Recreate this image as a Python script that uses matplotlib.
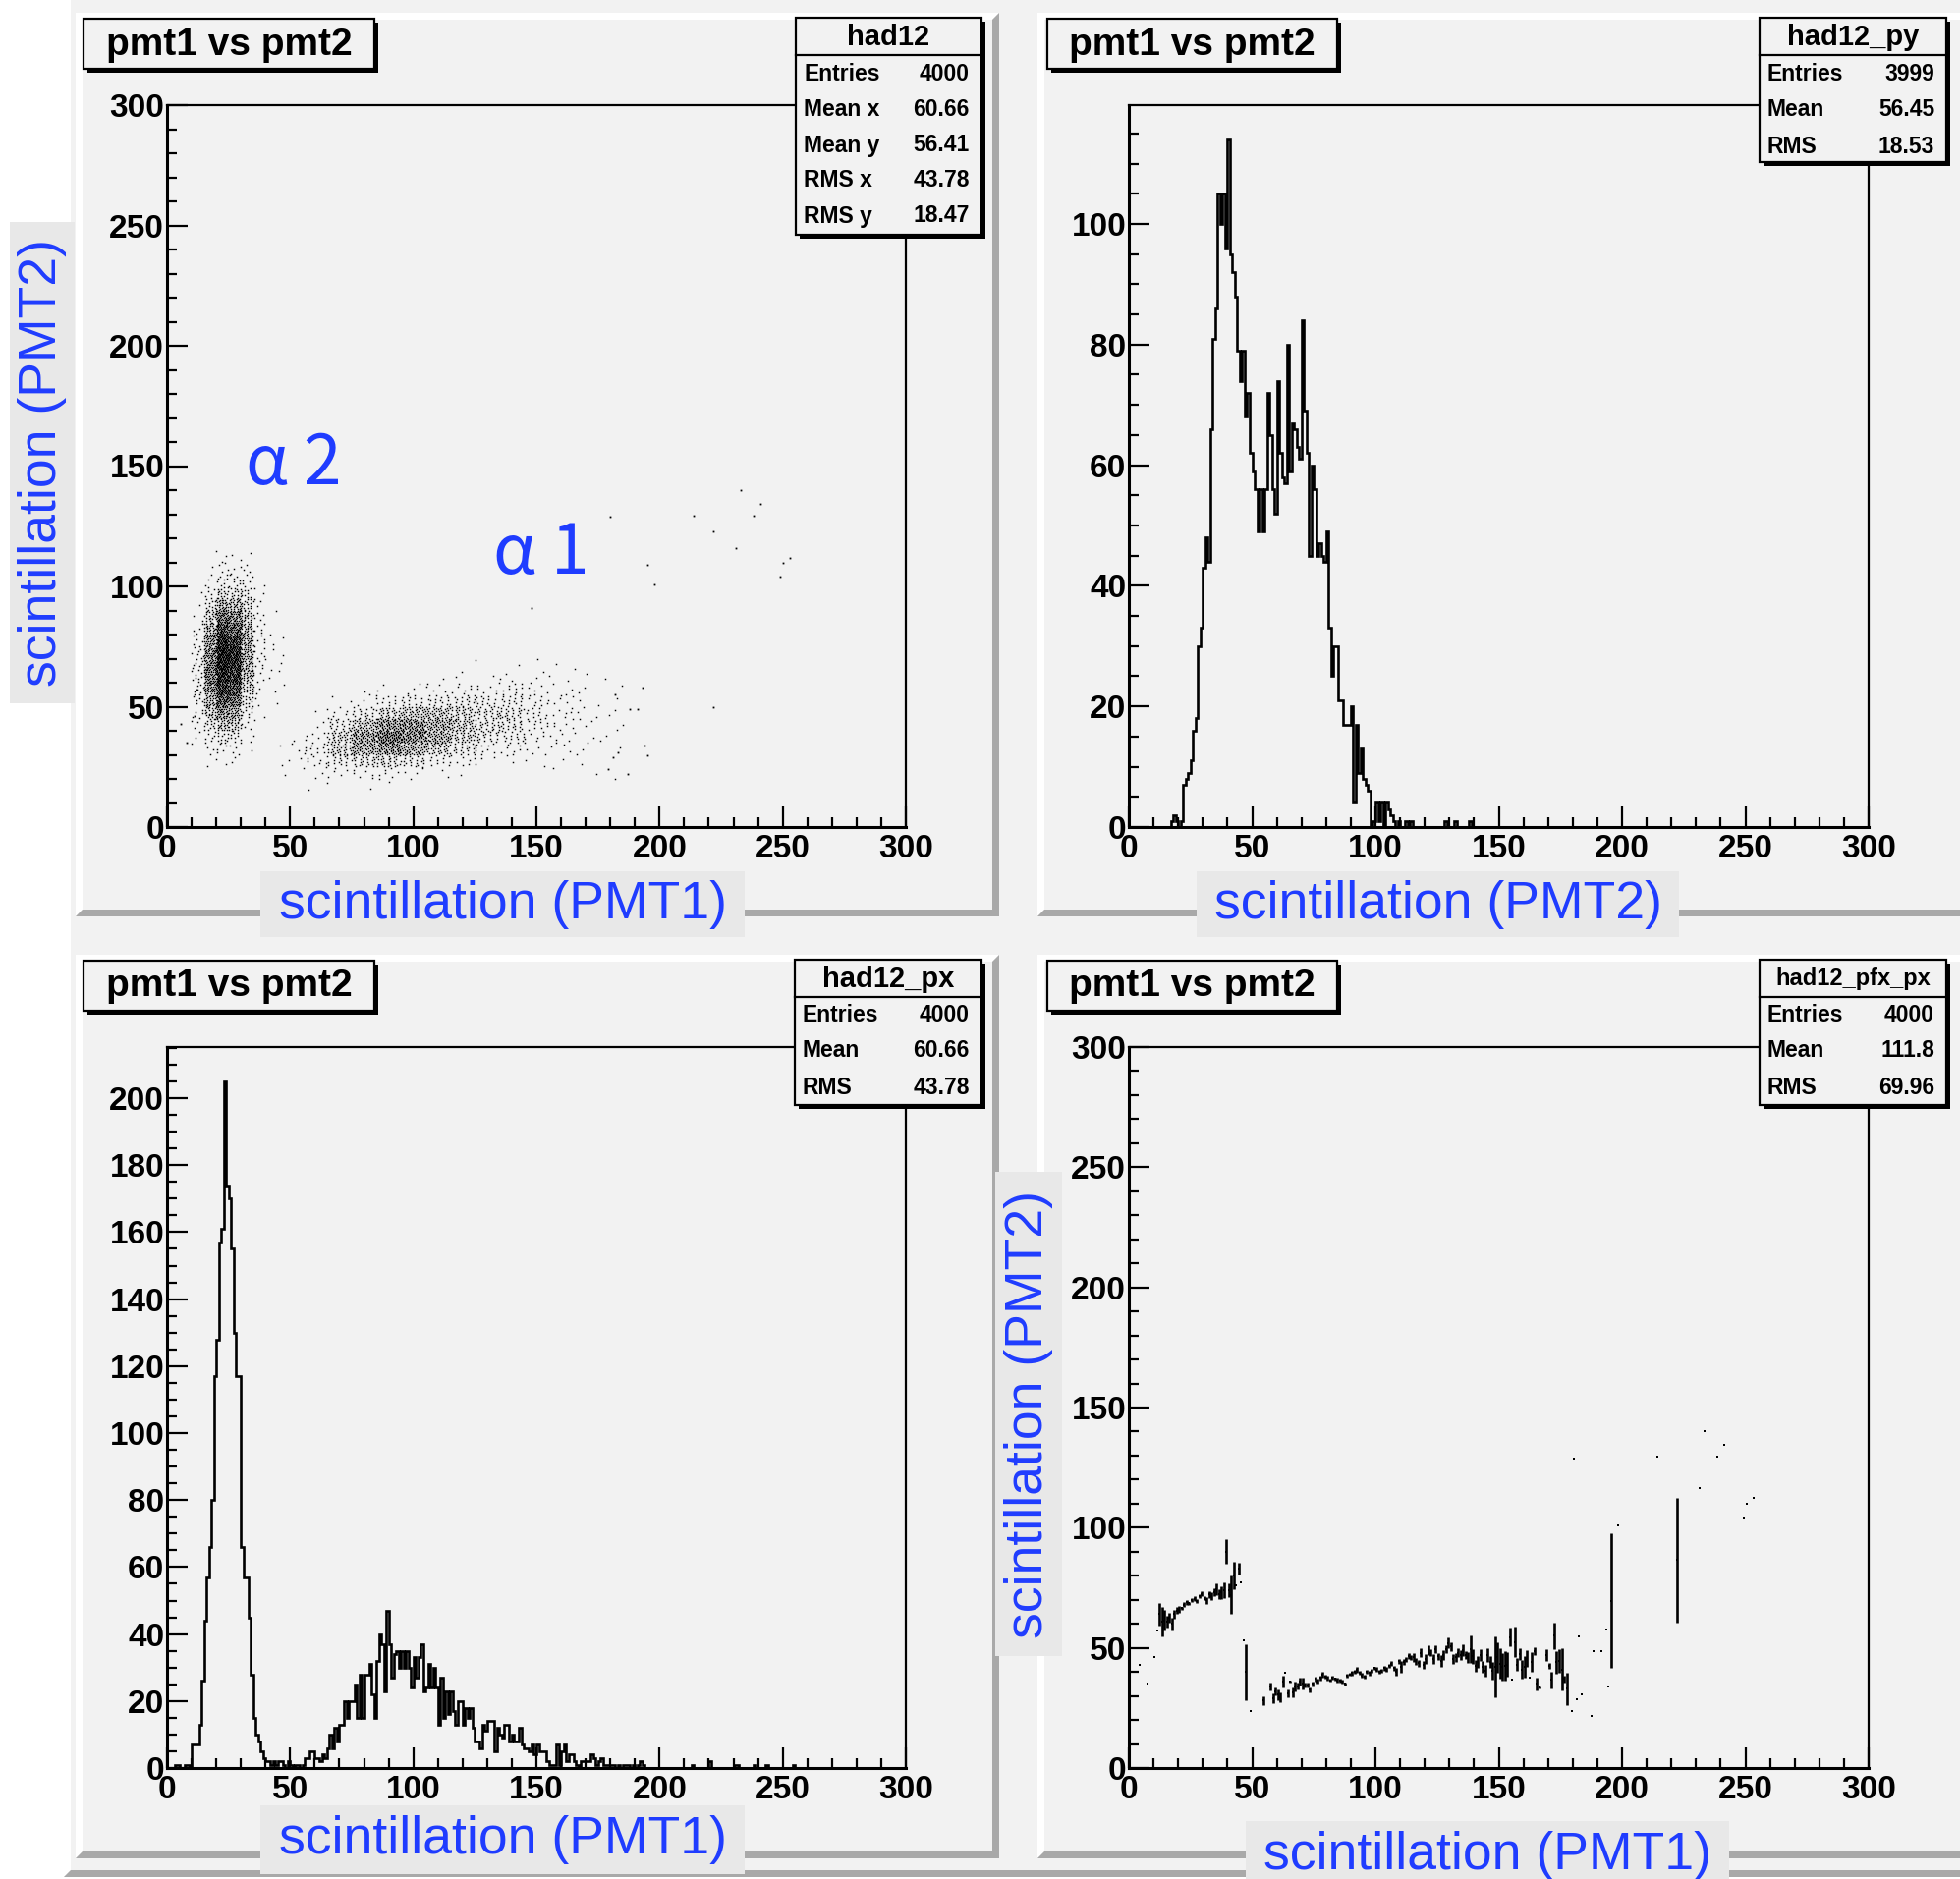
import numpy as np
import matplotlib
matplotlib.use("Agg")
import matplotlib.pyplot as plt
from matplotlib.patches import Rectangle, Polygon
from matplotlib.ticker import MultipleLocator

W, H = 1995, 1913
plt.rcParams['font.family'] = ['Liberation Sans', 'DejaVu Sans']
plt.rcParams['font.weight'] = 'bold'

PAD = '#f2f2f2'
LBOX = '#e8e8e8'
BLUE = '#1f3cff'

# ---------------- data ----------------
# had12_py : 1-unit bins, first bin = 15
py_first = 15
py_counts = [0, 0, 1, 2, 1, 0, 1, 7, 8, 9, 11, 16, 18, 30, 33, 43, 48, 44, 66, 81,
             86, 105, 100, 105, 96, 114, 95, 92, 88, 79, 74, 79, 68, 72, 62, 59, 56, 49, 56, 49,
             56, 72, 65, 56, 52, 74, 62, 58, 57, 80, 59, 67, 66, 63, 61, 84, 69, 62, 45, 60,
             56, 45, 47, 45, 44, 49, 33, 25, 30, 30, 21, 21, 17, 17, 17, 20, 4, 17, 9, 13,
             8, 7, 6, 0, 1, 4, 1, 4, 0, 4, 3, 2, 1, 0, 1, 0, 0, 1, 0, 1,
             0, 0, 0, 0, 0, 0, 0, 0, 0, 0, 0, 0, 0, 1, 0, 0, 0, 1, 0, 0,
             0, 0, 0, 1]

# had12_px : 1-unit bins, first bin = 0
px_counts = [0, 0, 0, 1, 1, 0, 0, 1, 1, 0, 7, 7, 7, 13, 26, 44, 57, 66, 80, 117,
             128, 157, 161, 205, 174, 170, 155, 130, 117, 117, 66, 57, 57, 45, 28, 15, 10, 8, 5, 3,
             2, 2, 1, 2, 1, 2, 2, 1, 0, 2, 1, 0, 1, 1, 0, 1, 3, 3, 5, 5,
             3, 3, 2, 4, 3, 6, 10, 6, 12, 8, 13, 13, 20, 15, 20, 20, 25, 15, 28, 15,
             28, 28, 31, 22, 15, 32, 40, 37, 23, 47, 37, 27, 34, 35, 30, 35, 30, 35, 30, 24,
             33, 27, 33, 37, 23, 24, 31, 24, 30, 24, 13, 27, 15, 23, 16, 23, 17, 13, 20, 20,
             13, 18, 15, 18, 12, 8, 8, 6, 13, 11, 14, 14, 14, 5, 12, 10, 9, 13, 13, 8,
             10, 8, 8, 12, 7, 6, 6, 5, 7, 4, 7, 5, 5, 5, 2, 1, 1, 1, 7, 1,
             5, 7, 2, 4, 4, 2, 1, 0, 2, 2, 2, 2, 4, 3, 1, 2, 3, 1, 1, 1,
             1, 1, 0, 1, 0, 1, 1, 1, 0, 1, 0, 1, 2, 1, 0, 0, 0, 0, 0, 0,
             0, 0, 0, 0, 0, 0, 0, 0, 0, 0, 0, 0, 0, 1, 0, 0, 0, 0, 0, 0,
             2, 0, 0, 0, 0, 0, 0, 0, 0, 0, 1, 1, 0, 0, 0, 0, 0, 0, 1, 0,
             0, 0, 0, 1, 0, 0, 0, 0, 0, 0, 0, 0, 0, 0, 1]

# had12 (2D) coarse counts, alpha2 cluster: x cells 10..50 (5 wide), y cells 25..115 (5 high)
a2_x0, a2_dx, a2_y0, a2_dy = 10, 5, 25, 5
a2_rows = [
    [0, 1, 2, 2, 0, 0, 0, 0],
    [1, 3, 5, 4, 1, 0, 0, 0],
    [2, 7, 12, 10, 2, 0, 0, 0],
    [3, 14, 25, 21, 4, 1, 0, 0],
    [5, 22, 41, 34, 8, 1, 0, 0],
    [6, 31, 62, 52, 13, 2, 1, 0],
    [7, 39, 83, 69, 19, 3, 1, 1],
    [8, 46, 99, 83, 25, 4, 1, 1],
    [8, 47, 107, 90, 30, 5, 1, 1],
    [7, 45, 107, 90, 33, 5, 1, 1],
    [5, 38, 95, 79, 33, 5, 1, 1],
    [4, 29, 74, 62, 29, 5, 1, 0],
    [2, 20, 54, 45, 23, 4, 1, 0],
    [1, 12, 33, 28, 16, 3, 0, 0],
    [1, 6, 17, 14, 10, 2, 0, 0],
    [0, 3, 8, 7, 5, 1, 0, 0],
    [0, 1, 4, 3, 3, 0, 0, 0],
    [0, 1, 2, 1, 2, 0, 0, 0],
]
# alpha1 cluster: x cells 45..185 (10 wide), y cells 15..75 (5 high)
a1_x0, a1_dx, a1_y0, a1_dy = 45, 10, 15, 5
a1_rows = [
    [0, 1, 1, 1, 1, 0, 0, 0, 0, 0, 0, 0, 0, 0],
    [1, 3, 5, 6, 7, 4, 2, 1, 0, 0, 0, 1, 1, 1],
    [3, 8, 18, 25, 30, 20, 12, 7, 3, 2, 2, 1, 1, 0],
    [3, 11, 35, 58, 75, 55, 36, 20, 10, 7, 4, 3, 2, 1],
    [1, 6, 36, 70, 105, 88, 60, 35, 19, 15, 7, 5, 3, 2],
    [0, 2, 19, 45, 78, 80, 62, 40, 25, 21, 10, 6, 3, 2],
    [0, 1, 7, 17, 34, 43, 42, 33, 24, 23, 11, 6, 3, 2],
    [0, 0, 2, 4, 10, 14, 17, 17, 15, 17, 9, 5, 2, 1],
    [0, 0, 0, 1, 2, 3, 5, 7, 6, 9, 5, 3, 2, 1],
    [0, 0, 0, 0, 0, 0, 1, 2, 2, 3, 3, 2, 1, 1],
    [0, 0, 0, 0, 0, 0, 0, 0, 1, 1, 1, 1, 1, 0],
    [0, 0, 0, 0, 0, 0, 0, 0, 0, 0, 0, 0, 0, 0],
]
# isolated entries
iso_x = [5.4, 8, 11, 12, 148, 179, 181, 182, 183, 187, 188, 191, 193, 194, 195, 195,
         198, 180, 214, 222, 222, 231, 233, 238, 241, 249, 250, 253]
iso_y = [43, 35, 46, 57, 91, 24, 29, 55, 31, 22, 49, 49, 58, 34, 109, 30,
         101, 129, 129.5, 123, 50, 116, 140, 129.5, 134.4, 104, 110, 112]

# had12_pfx_px profile: bin, mean, error
pfx_bin = [4, 7, 10, 11, 12, 13, 14, 15, 16, 17, 18, 19, 20, 21, 22, 23, 24, 25, 26, 27,
           28, 29, 30, 31, 32, 33, 34, 35, 36, 37, 38, 39, 40, 41, 42, 43, 44, 45, 46, 47,
           49, 54, 57, 58, 59, 60, 61, 62, 63, 64, 65, 66, 67, 68, 69, 70, 71, 72, 73, 74,
           75, 76, 77, 78, 79, 80, 81, 82, 83, 84, 85, 86, 87, 88, 89, 90, 91, 92, 93, 94,
           95, 96, 97, 98, 99, 100, 101, 102, 103, 104, 105, 106, 107, 108, 109, 110, 111, 112, 113, 114,
           115, 116, 117, 118, 119, 120, 121, 122, 123, 124, 125, 126, 127, 128, 129, 130, 131, 132, 133, 134,
           135, 136, 137, 138, 139, 140, 141, 142, 143, 144, 145, 146, 147, 148, 149, 150, 151, 152, 153, 154,
           155, 156, 157, 158, 159, 160, 161, 162, 163, 164, 165, 166, 169, 170, 171, 172, 173, 174, 175, 176,
           177, 179, 180, 181, 182, 183, 187, 188, 191, 193, 194, 195, 198, 214, 222, 231, 233, 238, 241, 249,
           250, 253]
pfx_mean = [43.0, 35.0, 46.2, 57.1, 64.0, 61.0, 61.5, 61.0, 62.5, 60.0, 64.0, 65.5, 66.0, 66.5, 68.0, 69.0, 68.5, 69.8, 70.5, 69.5,
            71.6, 72.5, 70.7, 69.8, 72.2, 71.5, 73.0, 74.5, 72.5, 73.0, 74.0, 90.0, 74.0, 72.0, 80.0, 76.0, 83.0, 77.3, 53.0, 40.0,
            23.7, 28.0, 34.0, 29.0, 32.0, 30.5, 29.5, 36.0, 39.5, 31.0, 35.9, 31.5, 34.0, 34.0, 36.0, 35.0, 34.5, 34.5, 32.5, 35.0,
            37.0, 36.0, 37.5, 39.0, 38.0, 37.5, 36.5, 37.5, 37.0, 36.5, 36.5, 36.0, 35.0, 38.5, 39.0, 39.5, 40.0, 41.0, 39.8, 38.5,
            38.0, 40.0, 39.5, 40.5, 41.5, 41.0, 40.0, 40.5, 41.5, 41.0, 42.5, 43.5, 41.5, 40.0, 44.5, 42.0, 44.0, 45.0, 46.5, 45.8,
            46.0, 44.5, 43.7, 48.0, 43.0, 45.5, 49.0, 48.0, 45.5, 49.5, 46.5, 44.5, 47.0, 49.5, 52.0, 50.5, 45.5, 46.0, 48.0, 47.0,
            49.0, 47.0, 46.0, 49.5, 46.5, 42.5, 44.0, 47.0, 42.0, 40.5, 47.0, 44.0, 40.5, 42.0, 46.0, 43.5, 42.0, 42.5, 43.0, 54.5,
            36.6, 52.5, 43.0, 47.5, 41.0, 42.0, 45.5, 37.7, 44.0, 48.5, 35.0, 33.6, 47.0, 42.5, 36.7, 55.0, 44.0, 44.5, 41.0, 37.0,
            33.0, 23.7, 128.6, 28.7, 54.9, 30.7, 21.7, 48.7, 48.7, 57.8, 33.8, 69.5, 101.1, 129.5, 86.5, 116.3, 140.2, 129.5, 134.4, 104.2,
            110.1, 112.2]
pfx_err = [0, 0, 0, 0, 4.8, 6.2, 4.1, 2.4, 2.0, 2.7, 1.7, 1.4, 1.4, 0.7, 1.0, 1.0, 0.7, 0.9, 0.9, 1.0,
           0.8, 0.9, 1.0, 1.5, 1.5, 1.6, 1.6, 2.4, 2.0, 2.6, 3.2, 5.1, 2.7, 8.0, 5.8, 0, 2.4, 0, 0, 11.6,
           0, 2.0, 1.7, 2.0, 1.7, 2.4, 2.0, 2.4, 0, 1.7, 0.5, 2.0, 2.0, 1.4, 1.5, 2.4, 1.0, 1.0, 1.2, 0.9,
           1.2, 1.0, 1.0, 1.2, 1.0, 1.0, 0.7, 0.9, 0.7, 0.9, 0.8, 0.9, 0.7, 0.7, 0.7, 0.9, 0.8, 1.2, 0.8, 1.0,
           0.8, 0.8, 0.9, 0.7, 0.8, 1.0, 0.8, 0.7, 1.0, 1.0, 1.0, 1.1, 1.0, 1.7, 1.0, 2.4, 1.2, 1.0, 1.2, 1.0,
           2.0, 1.4, 1.4, 1.8, 1.7, 2.0, 2.0, 1.4, 2.0, 1.7, 1.4, 2.3, 2.0, 1.7, 2.2, 2.0, 2.0, 1.7, 2.0, 2.0,
           2.4, 1.7, 2.4, 5.6, 3.1, 2.4, 2.4, 2.4, 2.4, 2.4, 2.7, 2.4, 3.8, 12.6, 6.2, 6.5, 5.8, 6.2, 5.1, 3.9,
           0, 6.2, 2.7, 2.4, 3.8, 4.4, 3.4, 0, 4.1, 1.7, 2.7, 0.5, 2.4, 1.4, 3.4, 5.5, 4.8, 5.0, 8.7, 1.4,
           6.8, 0, 0, 0, 0, 0, 0, 0, 0, 0, 0, 28.0, 0, 0, 26.0, 0, 0, 0, 0, 0,
           0, 0]

stats_tl = [("Entries", "4000"), ("Mean x", "60.66"), ("Mean y", "56.41"), ("RMS x", "43.78"), ("RMS y", "18.47")]
stats_tr = [("Entries", "3999"), ("Mean", "56.45"), ("RMS", "18.53")]
stats_bl = [("Entries", "4000"), ("Mean", "60.66"), ("RMS", "43.78")]
stats_br = [("Entries", "4000"), ("Mean", "111.8"), ("RMS", "69.96")]


# ---------------- figure ----------------
fig = plt.figure(figsize=(W / 100, H / 100), dpi=100, facecolor='white')

bg = fig.add_axes([0, 0, 1, 1], zorder=-10)
bg.set_xlim(0, W)
bg.set_ylim(H, 0)
bg.axis('off')

top = fig.add_axes([0, 0, 1, 1], zorder=20)
top.set_xlim(0, W)
top.set_ylim(H, 0)
top.axis('off')
top.patch.set_alpha(0)


def bevel(ax, x0, y0, x1, y1, bw=7, light='white', dark='#a9a9a9'):
    ax.add_patch(Rectangle((x0, y0), x1 - x0, y1 - y0, color=PAD, lw=0))
    ax.add_patch(Polygon([(x0, y0), (x1, y0), (x1 - bw, y0 + bw), (x0 + bw, y0 + bw),
                          (x0 + bw, y1 - bw), (x0, y1)], color=light, lw=0))
    ax.add_patch(Polygon([(x1, y0), (x1, y1), (x0, y1), (x0 + bw, y1 - bw),
                          (x1 - bw, y1 - bw), (x1 - bw, y0 + bw)], color=dark, lw=0))


# canvas and pads
bevel(bg, 65, -10, 2005, 1911, bw=7)
bg.add_patch(Rectangle((72, -10), 1930, 1905, color=PAD, lw=0))
for (x0, y0, x1, y1) in [(77, 13, 1017, 933), (1056, 13, 2010, 933),
                         (77, 972, 1017, 1892), (1056, 972, 2010, 1892)]:
    bevel(bg, x0, y0, x1, y1, bw=7)


def frame(x0, y0, x1, y1):
    return fig.add_axes([x0 / W, 1 - y1 / H, (x1 - x0) / W, (y1 - y0) / H])


def style(ax, ymax, ymaj, ymin):
    ax.set_facecolor(PAD)
    ax.set_xlim(0, 300)
    ax.set_ylim(0, ymax)
    ax.xaxis.set_major_locator(MultipleLocator(50))
    ax.xaxis.set_minor_locator(MultipleLocator(10))
    ax.yaxis.set_major_locator(MultipleLocator(ymaj))
    ax.yaxis.set_minor_locator(MultipleLocator(ymin))
    for s in ax.spines.values():
        s.set_linewidth(1.6)
    ax.spines['left'].set_linewidth(2.2)
    ax.spines['bottom'].set_linewidth(2.2)
    ax.tick_params(which='both', direction='in', width=1.6, labelsize=24)
    ax.tick_params(which='major', length=15)
    ax.tick_params(which='minor', length=7.5)
    ax.tick_params(axis='y', pad=2)
    ax.tick_params(axis='x', pad=5)


# --- top left: scatter
ax1 = frame(170, 107, 922, 842)
style(ax1, 300, 50, 10)


def cells(x0, dx, y0, dy, rows):
    xs, ys = [], []
    k = 0
    for j, row in enumerate(rows):
        for i, n in enumerate(row):
            for m in range(n):
                k += 1
                u = (0.5 + k * 0.7548776662) % 1
                v = (0.5 + k * 0.5698402910) % 1
                xs.append(x0 + (i + u) * dx)
                ys.append(y0 + (j + v) * dy)
    return xs, ys


for (x0, dx, y0, dy, rows) in [(a2_x0, a2_dx, a2_y0, a2_dy, a2_rows),
                               (a1_x0, a1_dx, a1_y0, a1_dy, a1_rows)]:
    xs, ys = cells(x0, dx, y0, dy, rows)
    ax1.plot(xs, ys, ls='none', marker='s', ms=1.05, mew=0, color='k')
ax1.plot(iso_x, iso_y, ls='none', marker='s', ms=1.3, mew=0, color='k')

# --- top right: py histogram
py_full = np.zeros(300)
py_full[py_first:py_first + len(py_counts)] = py_counts
ax2 = frame(1149, 107, 1902, 842)
style(ax2, 1.05 * max(py_counts), 20, 5)
ax2.stairs(py_full, np.arange(301), color='k', lw=1.9)

# --- bottom left: px histogram
px_full = np.zeros(300)
px_full[:len(px_counts)] = px_counts
ax3 = frame(170, 1066, 922, 1800)
style(ax3, 1.05 * max(px_counts), 20, 5)
ax3.stairs(px_full, np.arange(301), color='k', lw=1.9)

# --- bottom right: profile
ax4 = frame(1149, 1066, 1902, 1800)
style(ax4, 300, 50, 10)
bx = np.array(pfx_bin) + 0.5
ax4.errorbar(bx, pfx_mean, yerr=pfx_err, fmt='s', ms=1.8, mew=0, color='k',
             elinewidth=1.9, capsize=0)


# ---------------- boxes and labels ----------------
def title_box(x0, y0, x1, y1, text):
    top.add_patch(Rectangle((x0 + 4, y0 + 4), x1 - x0, y1 - y0, color='black', lw=0))
    top.add_patch(Rectangle((x0, y0), x1 - x0, y1 - y0, facecolor=PAD, edgecolor='black', lw=1.6))
    top.text((x0 + x1) / 2, (y0 + y1) / 2 + 1, text, fontsize=28, fontweight='bold',
             ha='center', va='center')


def stats_box(x0, y0, x1, ysep, y1, title, rows, ypos, tsize=21):
    top.add_patch(Rectangle((x0 + 4, y0 + 4), x1 - x0, y1 - y0, color='black', lw=0))
    top.add_patch(Rectangle((x0, y0), x1 - x0, y1 - y0, facecolor=PAD, edgecolor='black', lw=1.6))
    top.plot([x0, x1], [ysep, ysep], color='black', lw=1.6)
    top.text((x0 + x1) / 2, (y0 + ysep) / 2 + 1, title, fontsize=tsize, fontweight='bold',
             ha='center', va='center')
    for (lab, val), yy in zip(rows, ypos):
        top.text(x0 + 8, yy, lab, fontsize=16.5, fontweight='bold', ha='left', va='center')
        top.text(x1 - 12, yy, val, fontsize=16.5, fontweight='bold', ha='right', va='center')


def axis_label(x0, y0, x1, y1, text, rot=0):
    top.add_patch(Rectangle((x0, y0), x1 - x0, y1 - y0, color=LBOX, lw=0))
    top.text((x0 + x1) / 2, (y0 + y1) / 2, text, fontsize=38.5, fontweight='normal',
             color=BLUE, ha='center', va='center', rotation=rot)


title_box(85, 19, 381, 70, "pmt1 vs pmt2")
title_box(1066, 19, 1361, 70, "pmt1 vs pmt2")
title_box(85, 978, 381, 1029, "pmt1 vs pmt2")
title_box(1066, 978, 1361, 1029, "pmt1 vs pmt2")

stats_box(810, 18, 999, 56, 239, "had12", stats_tl, [75, 111, 148, 184, 220])
stats_box(1791, 18, 1981, 56, 165, "had12_py", stats_tr, [75, 112, 149])
stats_box(809, 977, 999, 1015, 1125, "had12_px", stats_bl, [1034, 1070, 1107])
stats_box(1791, 977, 1981, 1015, 1125, "had12_pfx_px", stats_br, [1034, 1070, 1107], tsize=17)

axis_label(265, 887, 758, 954, "scintillation (PMT1)")
axis_label(1218, 887, 1709, 954, "scintillation (PMT2)")
axis_label(265, 1838, 758, 1908, "scintillation (PMT1)")
axis_label(1268, 1854, 1760, 1925, "scintillation (PMT1)")
axis_label(10, 226, 76, 716, "scintillation (PMT2)", rot=90)
axis_label(1013, 1193, 1081, 1686, "scintillation (PMT2)", rot=90)

top.text(299, 473, "α 2", fontsize=50, fontweight='normal', color=BLUE, ha='center', va='center',
         family=['Noto Sans CJK JP', 'DejaVu Sans'])
top.text(551, 564, "α 1", fontsize=50, fontweight='normal', color=BLUE, ha='center', va='center',
         family=['Noto Sans CJK JP', 'DejaVu Sans'])

fig.savefig("out.png", dpi=100, facecolor='white')
